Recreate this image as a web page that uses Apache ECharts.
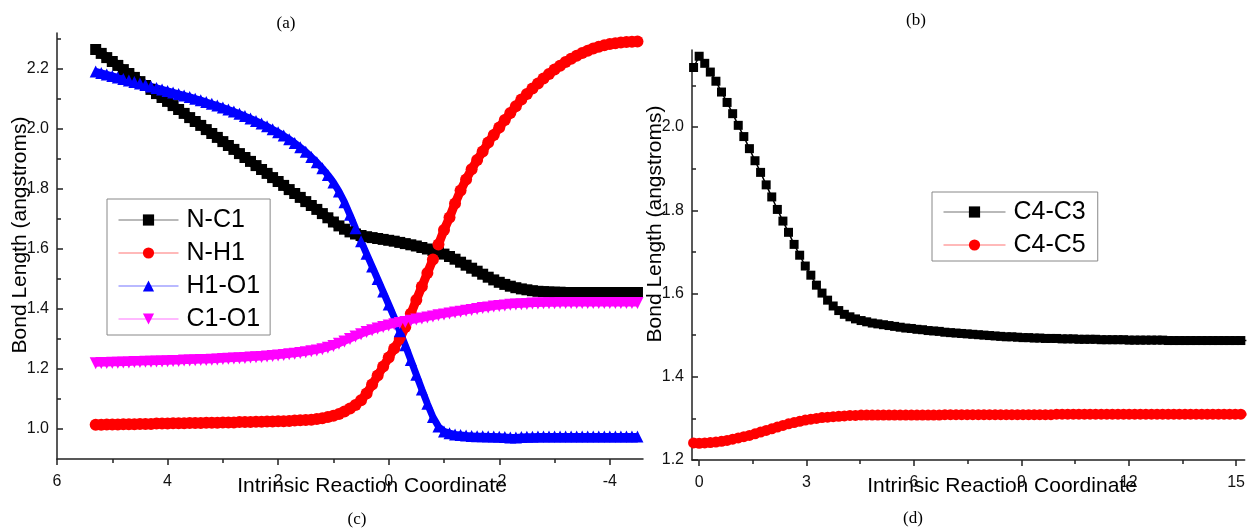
<!DOCTYPE html>
<html>
<head>
<meta charset="UTF-8">
<title>Bond length along IRC</title>
<script src="https://cdn.jsdelivr.net/npm/echarts@6.0.0/dist/echarts.min.js"></script>
<style>
    html,body{margin:0; padding:0; background:#fff;}
    #main{width:1248px; height:529px;}
</style>
</head>
<body>
<div id="main"></div>
<script type="text/javascript">
    // left plot: IRC grid goes 5.3 -> -4.5, step 0.1
    var leftStart = 5.3, leftStep = -0.1;
    var nc1 = [
        2.265, 2.252, 2.238, 2.225, 2.212, 2.198, 2.185, 2.172, 2.158, 2.145,
        2.132, 2.118, 2.105, 2.092, 2.078, 2.065, 2.052, 2.038, 2.025, 2.012,
        1.998, 1.985, 1.972, 1.958, 1.945, 1.932, 1.918, 1.905, 1.892, 1.878,
        1.865, 1.852, 1.838, 1.825, 1.812, 1.798, 1.785, 1.772, 1.758, 1.745,
        1.732, 1.718, 1.704, 1.690, 1.677, 1.666, 1.657, 1.650, 1.645, 1.641,
        1.638, 1.635, 1.632, 1.629, 1.626, 1.622, 1.618, 1.614, 1.610, 1.605,
        1.600, 1.595, 1.590, 1.583, 1.575, 1.566, 1.556, 1.546, 1.536, 1.526,
        1.516, 1.506, 1.497, 1.489, 1.482, 1.476, 1.471, 1.467, 1.464, 1.461,
        1.459, 1.458, 1.457, 1.456, 1.456, 1.455, 1.455, 1.455, 1.455, 1.455,
        1.455, 1.455, 1.455, 1.455, 1.455, 1.455, 1.455, 1.455, 1.455
    ];
    var nh1 = [
        1.014, 1.014, 1.015, 1.015, 1.015, 1.016, 1.016, 1.016, 1.017, 1.017,
        1.017, 1.018, 1.018, 1.018, 1.019, 1.019, 1.019, 1.020, 1.020, 1.020,
        1.021, 1.021, 1.021, 1.022, 1.022, 1.022, 1.023, 1.023, 1.023, 1.024,
        1.024, 1.025, 1.025, 1.026, 1.026, 1.027, 1.028, 1.029, 1.030, 1.031,
        1.033, 1.036, 1.040, 1.044, 1.050, 1.058, 1.068, 1.080, 1.096, 1.118,
        1.148, 1.178, 1.208, 1.238, 1.268, 1.300, 1.340, 1.384, 1.430, 1.475,
        1.520, 1.565, 1.615, 1.663, 1.705, 1.752, 1.795, 1.832, 1.866, 1.897,
        1.925, 1.955, 1.980, 2.005, 2.030, 2.053, 2.076, 2.098, 2.117, 2.135,
        2.152, 2.168, 2.183, 2.198, 2.211, 2.223, 2.234, 2.244, 2.253, 2.261,
        2.268, 2.274, 2.279, 2.283, 2.286, 2.288, 2.290, 2.291, 2.292
    ];
    var h1o1 = [
        2.192, 2.187, 2.182, 2.177, 2.172, 2.167, 2.162, 2.157, 2.152, 2.147,
        2.142, 2.137, 2.132, 2.127, 2.122, 2.117, 2.112, 2.107, 2.101, 2.096,
        2.090, 2.084, 2.078, 2.072, 2.065, 2.058, 2.051, 2.043, 2.035, 2.027,
        2.018, 2.009, 1.999, 1.989, 1.978, 1.966, 1.953, 1.939, 1.924, 1.907,
        1.889, 1.869, 1.847, 1.822, 1.792, 1.756, 1.714, 1.669, 1.626, 1.584,
        1.542, 1.500, 1.458, 1.415, 1.372, 1.326, 1.279, 1.230, 1.181, 1.132,
        1.084, 1.040, 1.008, 0.992, 0.986, 0.982, 0.980, 0.978, 0.977, 0.976,
        0.976, 0.975, 0.975, 0.974, 0.973, 0.972, 0.972, 0.973, 0.974, 0.974,
        0.975, 0.975, 0.975, 0.975, 0.975, 0.975, 0.975, 0.975, 0.975, 0.975,
        0.975, 0.975, 0.975, 0.975, 0.975, 0.975, 0.975, 0.975, 0.975
    ];
    var c1o1 = [
        1.219, 1.220, 1.220, 1.221, 1.221, 1.222, 1.222, 1.223, 1.223, 1.224,
        1.224, 1.225, 1.225, 1.226, 1.227, 1.227, 1.228, 1.228, 1.229, 1.230,
        1.230, 1.231, 1.232, 1.233, 1.234, 1.235, 1.236, 1.237, 1.238, 1.239,
        1.240, 1.242, 1.243, 1.245, 1.247, 1.249, 1.251, 1.253, 1.256, 1.259,
        1.262, 1.266, 1.271, 1.277, 1.284, 1.292, 1.300, 1.308, 1.316, 1.323,
        1.329, 1.335, 1.340, 1.345, 1.349, 1.353, 1.357, 1.361, 1.365, 1.368,
        1.372, 1.375, 1.379, 1.382, 1.385, 1.388, 1.391, 1.394, 1.397, 1.400,
        1.403, 1.405, 1.408, 1.410, 1.412, 1.414, 1.415, 1.416, 1.417, 1.418,
        1.418, 1.419, 1.419, 1.419, 1.420, 1.420, 1.420, 1.420, 1.420, 1.420,
        1.420, 1.420, 1.420, 1.420, 1.420, 1.420, 1.420, 1.420, 1.420
    ];

    // right plot: IRC grid starts at -0.156, step 0.156
    var rightStart = -0.156, rightStep = 0.156;
    var c4c3 = [
        2.143, 2.170, 2.153, 2.132, 2.110, 2.084, 2.059, 2.032, 2.004, 1.977,
        1.948, 1.919, 1.891, 1.861, 1.832, 1.802, 1.774, 1.747, 1.718, 1.692,
        1.666, 1.644, 1.620, 1.601, 1.584, 1.570, 1.559, 1.550, 1.544, 1.539,
        1.535, 1.532, 1.529, 1.527, 1.525, 1.523, 1.521, 1.519, 1.517, 1.516,
        1.514, 1.513, 1.511, 1.510, 1.509, 1.507, 1.506, 1.505, 1.504, 1.503,
        1.502, 1.501, 1.500, 1.499, 1.498, 1.497, 1.496, 1.496, 1.495, 1.494,
        1.494, 1.493, 1.493, 1.492, 1.492, 1.492, 1.491, 1.491, 1.491, 1.490,
        1.490, 1.490, 1.490, 1.489, 1.489, 1.489, 1.489, 1.489, 1.488, 1.488,
        1.488, 1.488, 1.488, 1.488, 1.488, 1.487, 1.487, 1.487, 1.487, 1.487,
        1.487, 1.487, 1.487, 1.487, 1.487, 1.487, 1.487, 1.487, 1.487, 1.487
    ];
    var c4c5 = [
        1.241, 1.240, 1.241, 1.242, 1.243, 1.245, 1.247, 1.250, 1.253, 1.256,
        1.259, 1.263, 1.267, 1.271, 1.275, 1.279, 1.283, 1.287, 1.290, 1.293,
        1.296, 1.298, 1.300, 1.302, 1.303, 1.304, 1.305, 1.306, 1.307, 1.307,
        1.308, 1.308, 1.308, 1.308, 1.308, 1.308, 1.308, 1.308, 1.308, 1.308,
        1.308, 1.308, 1.308, 1.308, 1.308, 1.309, 1.309, 1.309, 1.309, 1.309,
        1.309, 1.309, 1.309, 1.309, 1.309, 1.309, 1.309, 1.309, 1.309, 1.309,
        1.309, 1.309, 1.309, 1.309, 1.309, 1.310, 1.310, 1.310, 1.310, 1.310,
        1.310, 1.310, 1.310, 1.310, 1.310, 1.310, 1.310, 1.310, 1.310, 1.310,
        1.310, 1.310, 1.310, 1.310, 1.310, 1.310, 1.310, 1.310, 1.310, 1.310,
        1.310, 1.310, 1.310, 1.310, 1.310, 1.310, 1.310, 1.310, 1.310, 1.310
    ];

    // tick labels
    var leftXTicks = [-4, -2, 0, 2, 4, 6];
    var leftXMinor = [-3, -1, 1, 3, 5];
    var leftYTicks = [1.0, 1.2, 1.4, 1.6, 1.8, 2.0, 2.2];
    var leftYMinor = [1.1, 1.3, 1.5, 1.7, 1.9, 2.1, 2.3];
    var rightXTicks = [0, 3, 6, 9, 12, 15];
    var rightXMinor = [1.5, 4.5, 7.5, 10.5, 13.5];
    var rightYTicks = [1.2, 1.4, 1.6, 1.8, 2.0];
    var rightYMinor = [1.3, 1.5, 1.7, 1.9, 2.1];

    function pairs(arr, start, step) {
        return arr.map(function (v, i) {
            return [+(start + step * i).toFixed(3), v];
        });
    }

    var sans = '"Liberation Sans", Arial, sans-serif';
    var serif = '"Liberation Serif", "Times New Roman", serif';
    var axisColor = '#222';

    function mainX(grid, min, max, inverse, ticks) {
        return {
            type: 'value', gridIndex: grid, min: min, max: max, inverse: inverse, position: 'bottom',
            axisLine: {show: true, onZero: false, lineStyle: {color: axisColor, width: 1.5}},
            axisTick: {show: true, inside: false, length: 6, customValues: ticks, lineStyle: {color: axisColor, width: 1.5}},
            axisLabel: {customValues: ticks, margin: 15, fontSize: 16, fontFamily: sans, color: '#111'},
            splitLine: {show: false}
        };
    }
    function minorX(grid, min, max, inverse, ticks) {
        return {
            type: 'value', gridIndex: grid, min: min, max: max, inverse: inverse, position: 'bottom',
            axisLine: {show: false, onZero: false},
            axisTick: {show: true, inside: false, length: 4, customValues: ticks, lineStyle: {color: axisColor, width: 1.5}},
            axisLabel: {show: false},
            splitLine: {show: false}
        };
    }
    function mainY(grid, min, max, ticks) {
        return {
            type: 'value', gridIndex: grid, min: min, max: max, position: 'left',
            axisLine: {show: true, onZero: false, lineStyle: {color: axisColor, width: 1.5}},
            axisTick: {show: true, inside: true, length: 6, customValues: ticks, lineStyle: {color: axisColor, width: 1.5}},
            axisLabel: {customValues: ticks, margin: 8, fontSize: 16, fontFamily: sans, color: '#111',
                formatter: function (v) { return v.toFixed(1); }},
            splitLine: {show: false}
        };
    }
    function minorY(grid, min, max, ticks) {
        return {
            type: 'value', gridIndex: grid, min: min, max: max, position: 'left',
            axisLine: {show: false, onZero: false},
            axisTick: {show: true, inside: true, length: 4, customValues: ticks, lineStyle: {color: axisColor, width: 1.5}},
            axisLabel: {show: false},
            splitLine: {show: false}
        };
    }

    function series(name, data, color, symbol, size, lw, xi, yi, rotate) {
        return {
            name: name, type: 'line', data: data,
            xAxisIndex: xi, yAxisIndex: yi,
            symbol: symbol, symbolSize: size, symbolRotate: rotate || 0,
            showAllSymbol: true,
            itemStyle: {color: color},
            lineStyle: {color: color, width: lw},
            clip: true, silent: true
        };
    }

    var legendBase = {
        orient: 'vertical',
        itemGap: 5,
        itemHeight: 14,
        borderColor: '#888',
        borderWidth: 1,
        borderRadius: 0,
        textStyle: {fontSize: 25, fontFamily: sans, color: '#000', lineHeight: 28, padding: [0, 0, 0, 3]},
        lineStyle: {width: 1, opacity: 0.55}
    };

    var myChart = echarts.init(document.getElementById('main'));
    var option = {
        animation: false,
        backgroundColor: '#fff',
        grid: [
            {left: 57, top: 33, width: 586, height: 426},
            {left: 692, top: 50, width: 556, height: 410}
        ],
        xAxis: [
            mainX(0, -4.6, 6, true, leftXTicks),
            minorX(0, -4.6, 6, true, leftXMinor),
            mainX(1, -0.2, 15.24, false, rightXTicks),
            minorX(1, -0.2, 15.24, false, rightXMinor)
        ],
        yAxis: [
            mainY(0, 0.9, 2.32, leftYTicks),
            minorY(0, 0.9, 2.32, leftYMinor),
            mainY(1, 1.2, 2.185, rightYTicks),
            minorY(1, 1.2, 2.185, rightYMinor)
        ],
        legend: [
            Object.assign({}, legendBase, {
                data: ['N-C1', 'N-H1', 'H1-O1', 'C1-O1'],
                left: 107, top: 199, itemWidth: 60,
                padding: [7, 10, 2, 11]
            }),
            Object.assign({}, legendBase, {
                data: ['C4-C3', 'C4-C5'],
                left: 932, top: 192, itemWidth: 62,
                padding: [6, 12, 2, 11]
            })
        ],
        series: [
            series('N-C1', pairs(nc1, leftStart, leftStep), '#000000', 'rect', 11, 9, 0, 0),
            series('N-H1', pairs(nh1, leftStart, leftStep), '#ff0000', 'circle', 12, 9, 0, 0),
            series('H1-O1', pairs(h1o1, leftStart, leftStep), '#0000ff', 'triangle', 12, 7, 0, 0),
            series('C1-O1', pairs(c1o1, leftStart, leftStep), '#ff00ff', 'triangle', 12, 7, 0, 0, 180),
            series('C4-C3', pairs(c4c3, rightStart, rightStep), '#000000', 'rect', 9, 1.5, 2, 2),
            series('C4-C5', pairs(c4c5, rightStart, rightStep), '#ff0000', 'circle', 11, 3, 2, 2)
        ],
        graphic: [
            {type: 'text', x: 286, y: 24, style: {text: '(a)', font: '17px ' + serif, fill: '#000', textAlign: 'center', textVerticalAlign: 'middle'}},
            {type: 'text', x: 916, y: 21, style: {text: '(b)', font: '17px ' + serif, fill: '#000', textAlign: 'center', textVerticalAlign: 'middle'}},
            {type: 'text', x: 357, y: 520, style: {text: '(c)', font: '17px ' + serif, fill: '#000', textAlign: 'center', textVerticalAlign: 'middle'}},
            {type: 'text', x: 913, y: 519, style: {text: '(d)', font: '17px ' + serif, fill: '#000', textAlign: 'center', textVerticalAlign: 'middle'}},
            {type: 'text', x: 372, y: 486, style: {text: 'Intrinsic Reaction Coordinate', font: '21px ' + sans, fill: '#000', textAlign: 'center', textVerticalAlign: 'middle'}},
            {type: 'text', x: 1002, y: 486, style: {text: 'Intrinsic Reaction Coordinate', font: '21px ' + sans, fill: '#000', textAlign: 'center', textVerticalAlign: 'middle'}},
            {type: 'text', x: 20, y: 235, rotation: Math.PI / 2, style: {text: 'Bond Length (angstroms)', font: '21px ' + sans, fill: '#000', textAlign: 'center', textVerticalAlign: 'middle'}},
            {type: 'text', x: 655, y: 224, rotation: Math.PI / 2, style: {text: 'Bond Length (angstroms)', font: '21px ' + sans, fill: '#000', textAlign: 'center', textVerticalAlign: 'middle'}}
        ]
    };
    myChart.setOption(option);
</script>
</body>
</html>
